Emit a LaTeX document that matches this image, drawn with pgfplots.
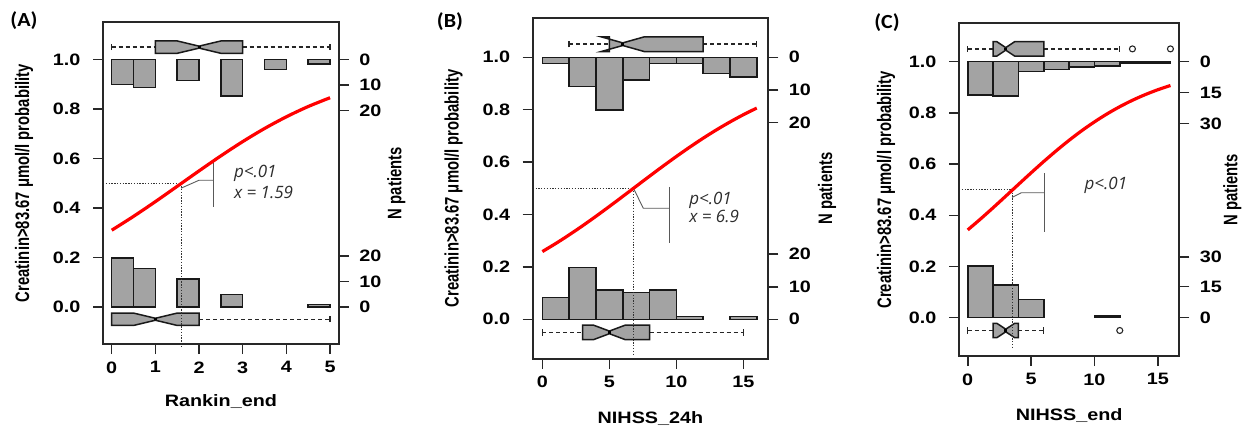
\documentclass[border=0pt]{standalone}
\usepackage{pgfplots}
\pgfplotsset{compat=1.18}
\usepackage{fontspec}
\setmainfont{Liberation Sans}[FakeStretch=1.2]
\newfontfamily\rotfont{Liberation Sans}[FakeStretch=0.76]
\newfontfamily\capfont{Carlito}[FakeStretch=1.1]
\newfontfamily\annfont{Open Sans}
\definecolor{barfill}{RGB}{163,163,163}
\definecolor{framec}{RGB}{40,40,40}
\definecolor{anncol}{RGB}{45,45,45}
\newcommand\ticklab{\fontsize{16.5bp}{18bp}\selectfont\bfseries}
\newcommand\rotlab{\rotfont\bfseries\fontsize{19.5bp}{21bp}\selectfont}
\newcommand\xlab{\bfseries\fontsize{16.5bp}{18bp}\selectfont}
\newcommand\annf{\annfont\itshape\fontsize{17bp}{19bp}\selectfont}
\newcommand\capf{\capfont\bfseries\fontsize{20bp}{22bp}\selectfont}
\pgfplotsset{
  panel/.style={
    scale only axis, clip=false,
    axis line style={line width=1.8bp, framec, solid},
    ymin=-0.15, ymax=1.15,
    ytick={0,0.2,0.4,0.6,0.8,1.0},
    yticklabels={0.0,0.2,0.4,0.6,0.8,1.0},
    tick align=outside, major tick length=10bp,
    tick style={line width=1.5bp, framec},
    tick pos=left,
    tick label style={font=\ticklab},
    yticklabel style={xshift=-9bp},
    xticklabel style={yshift=-4bp},
  },
  rightax/.style={
    scale only axis,
    ymin=-0.15, ymax=1.15,
    axis x line=none, axis y line*=right,
    y axis line style={line width=1.8bp, framec},
    tick align=outside, major tick length=10bp,
    tick style={line width=1.5bp, framec},
    tick label style={font=\ticklab},
    yticklabel style={xshift=7bp},
  },
  hb/.style={draw=black!90, fill=barfill, line width=1.5bp},
  wh/.style={black!85, line width=1.4bp, dash pattern=on 4bp off 3bp},
  cap/.style={black!85, line width=1.4bp},
  med/.style={black, line width=3bp},
  curve/.style={red, line width=3.2bp, smooth},
  guide/.style={black!80, line width=0.7bp, dash pattern=on 1.3bp off 1.5bp},
  brk/.style={black!65, line width=0.9bp},
  outl/.style={only marks, mark=o, mark size=3bp, mark options={black!85, line width=1.1bp, solid}},
}
\newcommand\frameit{\draw[framec, line width=1.8bp, solid] (rel axis cs:0,0) rectangle (rel axis cs:1,1);}
\begin{document}
\begin{tikzpicture}
\useasboundingbox (0,0) rectangle (1250bp,432bp);
% ================= Panel A =================
\node[font=\capf] at (24bp,411bp) {(A)};
\begin{axis}[panel, at={(103bp,88bp)}, anchor=south west, width=235.8bp, height=321.6bp,
  xmin=-0.2, xmax=5.2, xtick={0,1,2,3,4,5}, xticklabels={0,1,2,3,4,5}]
% top histogram
\addplot[hb] coordinates {(0,1)(0,0.899)(0.5,0.899)(0.5,1)} --cycle;
\addplot[hb] coordinates {(0.5,1)(0.5,0.887)(1,0.887)(1,1)} --cycle;
\addplot[hb] coordinates {(1.5,1)(1.5,0.916)(2,0.916)(2,1)} --cycle;
\addplot[hb] coordinates {(2.5,1)(2.5,0.852)(3,0.852)(3,1)} --cycle;
\addplot[hb] coordinates {(3.5,1)(3.5,0.960)(4,0.960)(4,1)} --cycle;
\addplot[hb] coordinates {(4.5,1)(4.5,0.981)(5,0.981)(5,1)} --cycle;
% bottom histogram
\addplot[hb] coordinates {(0,0)(0,0.198)(0.5,0.198)(0.5,0)} --cycle;
\addplot[hb] coordinates {(0.5,0)(0.5,0.155)(1,0.155)(1,0)} --cycle;
\addplot[hb] coordinates {(1.5,0)(1.5,0.112)(2,0.112)(2,0)} --cycle;
\addplot[hb] coordinates {(2.5,0)(2.5,0.050)(3,0.050)(3,0)} --cycle;
\addplot[hb] coordinates {(4.5,0)(4.5,0.010)(5,0.010)(5,0)} --cycle;
% top boxplot
\addplot[wh] coordinates {(0,1.05)(1,1.05)};
\addplot[wh] coordinates {(3,1.05)(5,1.05)};
\addplot[cap] coordinates {(0,1.038)(0,1.062)};
\addplot[cap] coordinates {(5,1.038)(5,1.062)};
\addplot[hb] coordinates {(1,1.025)(1,1.075)(1.5,1.075)(2,1.054)(2.5,1.075)(3,1.075)(3,1.025)(2.5,1.025)(2,1.046)(1.5,1.025)} --cycle;
\addplot[med] coordinates {(2,1.046)(2,1.054)};
% bottom boxplot
\addplot[wh] coordinates {(2,-0.05)(5,-0.05)};
\addplot[cap] coordinates {(5,-0.062)(5,-0.038)};
\addplot[hb] coordinates {(0,-0.075)(0,-0.025)(0.5,-0.025)(1,-0.046)(1.5,-0.025)(2,-0.025)(2,-0.075)(1.5,-0.075)(1,-0.054)(0.5,-0.075)} --cycle;
\addplot[med] coordinates {(1,-0.054)(1,-0.046)};
% guides and bracket
\addplot[guide] coordinates {(-0.2,0.5)(1.59,0.5)(1.59,-0.165)};
\addplot[brk] coordinates {(1.59,0.48)(2.0,0.512)(2.32,0.512)};
\addplot[brk] coordinates {(2.32,0.596)(2.32,0.404)};
% fitted curve
\addplot[curve] coordinates {(0,0.310)(0.5,0.366)(1,0.4256)(1.5,0.4875)(2,0.5498)(2.5,0.6106)(3,0.6682)(3.5,0.7211)(4,0.7685)(4.5,0.8100)(5,0.8455)};
\frameit
\node[font=\annf, text=anncol, anchor=west] at (axis cs:2.72,0.539) {p<.01};
\node[font=\annf, text=anncol, anchor=west] at (axis cs:2.72,0.461) {x = 1.59};
\node[font=\xlab] at ([yshift=-57.7bp]rel axis cs:0.5,0) {Rankin\_end};
\node[font=\rotlab, rotate=90] at ([xshift=-79bp]rel axis cs:0,0.5) {Creatinin>83.67 μmol/l probability};
\node[font=\rotlab, rotate=90] at ([xshift=57.5bp]rel axis cs:1,0.5) {N patients};
\end{axis}
\begin{axis}[rightax, at={(103bp,88bp)}, anchor=south west, width=235.8bp, height=321.6bp,
  xmin=-0.2, xmax=5.2, ytick={0,0.103,0.206,0.794,0.897,1.0}, yticklabels={0,10,20,20,10,0}]
\end{axis}
% ================= Panel B =================
\node[font=\capf] at (450bp,410bp) {(B)};
\begin{axis}[panel, at={(532.7bp,73.4bp)}, anchor=south west, width=235.6bp, height=340.6bp,
  xmin=-0.72, xmax=16.86, xtick={0,5,10,15}, xticklabels={0,5,10,15}]
\addplot[hb] coordinates {(0,1)(0,0.977)(2,0.977)(2,1)} --cycle;
\addplot[hb] coordinates {(2,1)(2,0.888)(4,0.888)(4,1)} --cycle;
\addplot[hb] coordinates {(4,1)(4,0.799)(6,0.799)(6,1)} --cycle;
\addplot[hb] coordinates {(6,1)(6,0.914)(8,0.914)(8,1)} --cycle;
\addplot[hb] coordinates {(8,1)(8,0.977)(10,0.977)(10,1)} --cycle;
\addplot[hb] coordinates {(10,1)(10,0.977)(12,0.977)(12,1)} --cycle;
\addplot[hb] coordinates {(12,1)(12,0.939)(14,0.939)(14,1)} --cycle;
\addplot[hb] coordinates {(14,1)(14,0.924)(16,0.924)(16,1)} --cycle;
\addplot[hb] coordinates {(0,0)(0,0.084)(2,0.084)(2,0)} --cycle;
\addplot[hb] coordinates {(2,0)(2,0.198)(4,0.198)(4,0)} --cycle;
\addplot[hb] coordinates {(4,0)(4,0.112)(6,0.112)(6,0)} --cycle;
\addplot[hb] coordinates {(6,0)(6,0.102)(8,0.102)(8,0)} --cycle;
\addplot[hb] coordinates {(8,0)(8,0.112)(10,0.112)(10,0)} --cycle;
\addplot[hb] coordinates {(10,0)(10,0.010)(12,0.010)(12,0)} --cycle;
\addplot[hb] coordinates {(14,0)(14,0.010)(16,0.010)(16,0)} --cycle;
% top boxplot
\addplot[wh] coordinates {(2,1.05)(5,1.05)};
\addplot[wh] coordinates {(12,1.05)(16,1.05)};
\addplot[cap] coordinates {(2,1.038)(2,1.062)};
\addplot[cap] coordinates {(16,1.038)(16,1.062)};
\addplot[hb] coordinates {(5,1.022)(5,1.078)(4.4,1.078)(6,1.055)(7.6,1.078)(12,1.078)(12,1.022)(7.6,1.022)(6,1.045)(4.4,1.022)} --cycle;
\addplot[med] coordinates {(6,1.045)(6,1.055)};
% bottom boxplot
\addplot[wh] coordinates {(0,-0.05)(3,-0.05)};
\addplot[wh] coordinates {(8,-0.05)(15,-0.05)};
\addplot[cap] coordinates {(0,-0.062)(0,-0.038)};
\addplot[cap] coordinates {(15,-0.062)(15,-0.038)};
\addplot[hb] coordinates {(3,-0.078)(3,-0.022)(3.8,-0.022)(5,-0.045)(6.2,-0.022)(8,-0.022)(8,-0.078)(6.2,-0.078)(5,-0.055)(3.8,-0.078)} --cycle;
\addplot[med] coordinates {(5,-0.055)(5,-0.045)};
\addplot[guide] coordinates {(-0.72,0.5)(6.8,0.5)(6.8,-0.14)};
\addplot[brk] coordinates {(6.8,0.5)(7.53,0.424)(9.45,0.424)};
\addplot[brk] coordinates {(9.45,0.505)(9.45,0.29)};
\addplot[curve] coordinates {(0,0.2585)(1,0.2893)(2,0.3222)(3,0.3569)(4,0.3932)(5,0.4307)(6,0.469)(7,0.5077)(8,0.5464)(9,0.5844)(10,0.6215)(11,0.6572)(12,0.6913)(13,0.7233)(14,0.7532)(15,0.7809)(16,0.8062)};
\frameit
\node[font=\annf, text=anncol, anchor=west] at (axis cs:10.7,0.455) {p<.01};
\node[font=\annf, text=anncol, anchor=west] at (axis cs:10.7,0.394) {x = 6.9};
\node[font=\xlab] at ([yshift=-59.7bp]rel axis cs:0.5,0) {NIHSS\_24h};
\node[font=\rotlab, rotate=90] at ([xshift=-79bp]rel axis cs:0,0.5) {Creatinin>83.67 μmol/l probability};
\node[font=\rotlab, rotate=90] at ([xshift=58.7bp]rel axis cs:1,0.5) {N patients};
\end{axis}
\begin{axis}[rightax, at={(532.7bp,73.4bp)}, anchor=south west, width=235.6bp, height=340.6bp,
  xmin=-0.72, xmax=16.86, ytick={0,0.124,0.249,0.751,0.876,1.0}, yticklabels={0,10,20,20,10,0}]
\end{axis}
% ================= Panel C =================
\node[font=\capf] at (887bp,409bp) {(C)};
\begin{axis}[panel, at={(959bp,75.9bp)}, anchor=south west, width=220.3bp, height=332.8bp,
  xmin=-0.69, xmax=16.7, xtick={0,5,10,15}, xticklabels={0,5,10,15}]
\addplot[hb] coordinates {(0,1)(0,0.870)(2,0.870)(2,1)} --cycle;
\addplot[hb] coordinates {(2,1)(2,0.866)(4,0.866)(4,1)} --cycle;
\addplot[hb] coordinates {(4,1)(4,0.961)(6,0.961)(6,1)} --cycle;
\addplot[hb] coordinates {(6,1)(6,0.970)(8,0.970)(8,1)} --cycle;
\addplot[hb] coordinates {(8,1)(8,0.980)(10,0.980)(10,1)} --cycle;
\addplot[hb] coordinates {(10,1)(10,0.984)(12,0.984)(12,1)} --cycle;
\addplot[hb] coordinates {(12,1)(12,0.994)(14,0.994)(14,1)} --cycle;
\addplot[hb] coordinates {(14,1)(14,0.994)(16,0.994)(16,1)} --cycle;
\addplot[hb] coordinates {(0,0)(0,0.202)(2,0.202)(2,0)} --cycle;
\addplot[hb] coordinates {(2,0)(2,0.128)(4,0.128)(4,0)} --cycle;
\addplot[hb] coordinates {(4,0)(4,0.072)(6,0.072)(6,0)} --cycle;
\addplot[hb] coordinates {(10,0)(10,0.006)(12,0.006)(12,0)} --cycle;
% top boxplot
\addplot[wh] coordinates {(0,1.05)(2,1.05)};
\addplot[wh] coordinates {(6,1.05)(12,1.05)};
\addplot[cap] coordinates {(0,1.038)(0,1.062)};
\addplot[cap] coordinates {(12,1.038)(12,1.062)};
\addplot[hb] coordinates {(2,1.022)(2,1.078)(2.3,1.078)(3,1.055)(3.7,1.078)(6,1.078)(6,1.022)(3.7,1.022)(3,1.045)(2.3,1.022)} --cycle;
\addplot[med] coordinates {(3,1.045)(3,1.055)};
\addplot[outl] coordinates {(13,1.05)(16,1.05)};
% bottom boxplot
\addplot[wh] coordinates {(0,-0.05)(2,-0.05)};
\addplot[wh] coordinates {(4,-0.05)(6,-0.05)};
\addplot[cap] coordinates {(0,-0.062)(0,-0.038)};
\addplot[cap] coordinates {(6,-0.062)(6,-0.038)};
\addplot[hb] coordinates {(2,-0.078)(2,-0.022)(2.3,-0.022)(3,-0.045)(3.7,-0.022)(4,-0.022)(4,-0.078)(3.7,-0.078)(3,-0.055)(2.3,-0.078)} --cycle;
\addplot[med] coordinates {(3,-0.055)(3,-0.045)};
\addplot[outl] coordinates {(12,-0.05)};
\addplot[guide] coordinates {(-0.69,0.5)(3.5,0.5)(3.5,-0.12)};
\addplot[brk] coordinates {(3.5,0.47)(4.22,0.488)(6.07,0.488)};
\addplot[brk] coordinates {(6.07,0.564)(6.07,0.336)};
\addplot[curve] coordinates {(0,0.343)(1,0.3853)(2,0.4295)(3,0.4748)(4,0.5205)(5,0.5659)(6,0.6102)(7,0.6527)(8,0.6930)(9,0.7305)(10,0.7649)(11,0.7962)(12,0.8243)(13,0.8493)(14,0.8712)(15,0.8904)(16,0.9070)};
\frameit
\node[font=\annf, text=anncol, anchor=west] at (axis cs:8.95,0.518) {p<.01};
\node[font=\xlab] at ([yshift=-59bp]rel axis cs:0.5,0) {NIHSS\_end};
\node[font=\rotlab, rotate=90] at ([xshift=-73bp]rel axis cs:0,0.5) {Creatinin>83.67 μmol/l probability};
\node[font=\rotlab, rotate=90] at ([xshift=53bp]rel axis cs:1,0.5) {N patients};
\end{axis}
\begin{axis}[rightax, at={(959bp,75.9bp)}, anchor=south west, width=220.3bp, height=332.8bp,
  xmin=-0.69, xmax=16.7, ytick={0,0.121,0.238,0.759,0.879,1.0}, yticklabels={0,15,30,30,15,0}]
\end{axis}
\end{tikzpicture}
\end{document}
